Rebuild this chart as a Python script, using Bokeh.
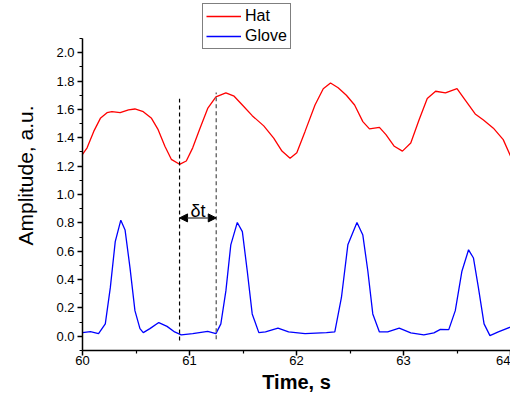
from bokeh.plotting import figure
from bokeh.models import Range1d, FixedTicker, Legend, LegendItem, Arrow, NormalHead, Label
from bokeh.embed import file_html
from bokeh.resources import INLINE

# Hat (red) curve
hat_t = [60.0, 60.043, 60.105, 60.167, 60.229, 60.275, 60.352, 60.43, 60.49, 60.568,
         60.645, 60.707, 60.77, 60.83, 60.907, 60.97, 61.03, 61.093, 61.17, 61.247,
         61.34, 61.417, 61.494, 61.586, 61.694, 61.787, 61.864, 61.94, 62.003, 62.08,
         62.173, 62.25, 62.318, 62.389, 62.466, 62.543, 62.62, 62.682, 62.775, 62.836,
         62.914, 62.99, 63.068, 63.145, 63.222, 63.3, 63.392, 63.5, 63.577, 63.67,
         63.747, 63.84, 63.932, 64.0]
hat_a = [1.283, 1.329, 1.445, 1.537, 1.577, 1.584, 1.577, 1.596, 1.603, 1.584,
         1.537, 1.457, 1.34, 1.248, 1.213, 1.236, 1.329, 1.457, 1.607, 1.688,
         1.716, 1.693, 1.631, 1.556, 1.484, 1.398, 1.306, 1.255, 1.294, 1.445,
         1.631, 1.746, 1.786, 1.753, 1.7, 1.631, 1.514, 1.463, 1.473, 1.422,
         1.34, 1.306, 1.363, 1.526, 1.677, 1.728, 1.716, 1.746, 1.665, 1.568,
         1.526, 1.468, 1.387, 1.271]

# Glove (blue) curve
glove_t = [60.0, 60.074, 60.15, 60.213, 60.26, 60.306, 60.358, 60.398, 60.444, 60.49,
           60.537, 60.568, 60.63, 60.713, 60.79, 60.861, 60.923, 61.03, 61.17, 61.247,
           61.293, 61.34, 61.386, 61.447, 61.494, 61.54, 61.586, 61.648, 61.71, 61.827,
           61.926, 62.08, 62.28, 62.358, 62.42, 62.48, 62.565, 62.62, 62.667, 62.713,
           62.775, 62.852, 62.96, 63.068, 63.19, 63.284, 63.345, 63.423, 63.484, 63.546,
           63.608, 63.654, 63.7, 63.753, 63.808, 63.886, 64.0]
glove_a = [0.026, 0.033, 0.019, 0.088, 0.343, 0.668, 0.819, 0.749, 0.483, 0.181,
           0.054, 0.026, 0.054, 0.097, 0.07, 0.031, 0.01, 0.019, 0.035, 0.019,
           0.088, 0.32, 0.645, 0.803, 0.738, 0.459, 0.158, 0.026, 0.031, 0.058,
           0.031, 0.019, 0.026, 0.031, 0.274, 0.645, 0.803, 0.714, 0.459, 0.158,
           0.031, 0.031, 0.058, 0.024, 0.01, 0.024, 0.049, 0.047, 0.181, 0.459,
           0.61, 0.552, 0.343, 0.088, 0.005, 0.031, 0.065]

# delta-t markers
dt_start = 60.907
dt_end = 61.25
dt_line1 = [-0.03, 1.675]
dt_line2 = [-0.02, 1.72]
dt_arrow_y = 0.835

x_ticks = [60, 61, 62, 63, 64]
x_minor = [60.5, 61.5, 62.5, 63.5]
y_ticks = [0.0, 0.2, 0.4, 0.6, 0.8, 1.0, 1.2, 1.4, 1.6, 1.8, 2.0]
y_minor = [-0.1, 0.1, 0.3, 0.5, 0.7, 0.9, 1.1, 1.3, 1.5, 1.7, 1.9, 2.1]
y_axis_bounds = (-0.1, 2.1)

FONT = "Liberation Sans"

p = figure(width=510, height=395, output_backend="svg", toolbar_location=None,
           x_range=Range1d(60, 64), y_range=Range1d(-0.1, 2.368),
           min_border_left=82, min_border_right=0, min_border_top=0, min_border_bottom=45)
p.outline_line_color = None
p.grid.visible = False
p.background_fill_color = "white"

r_hat = p.line(hat_t, hat_a, line_color="#ff0000", line_width=1.3)
r_glove = p.line(glove_t, glove_a, line_color="#0000ff", line_width=1.3)

p.line([dt_start, dt_start], dt_line1, line_color="black", line_width=1.2, line_dash="4 3")
p.line([dt_end, dt_end], dt_line2, line_color="#707070", line_width=1.5, line_dash="4 3")

p.add_layout(Arrow(x_start=dt_start, x_end=dt_end, y_start=dt_arrow_y, y_end=dt_arrow_y,
                   line_color="#555555", line_width=1.5,
                   start=NormalHead(size=8, fill_color="black", line_color="black"),
                   end=NormalHead(size=8, fill_color="black", line_color="black")))
p.add_layout(Label(x=(dt_start + dt_end) / 2, y=0.885, text="δt", text_align="center",
                   text_baseline="alphabetic", text_font=FONT, text_font_size="18px",
                   text_color="black"))

for ax in (p.xaxis, p.yaxis):
    ax.axis_line_width = 1.5
    ax.major_tick_line_width = 1.5
    ax.minor_tick_line_width = 1.2
    ax.major_tick_out = 5
    ax.major_tick_in = 0
    ax.minor_tick_out = 3
    ax.minor_tick_in = 0
    ax.major_label_text_font = FONT
    ax.major_label_text_font_size = "13px"
    ax.major_label_text_color = "black"
    ax.axis_label_text_font = FONT
    ax.axis_label_text_color = "black"
    ax.axis_line_color = "black"
    ax.major_tick_line_color = "black"
    ax.minor_tick_line_color = "black"

p.xaxis.ticker = FixedTicker(ticks=x_ticks, minor_ticks=x_minor)
p.yaxis.ticker = FixedTicker(ticks=y_ticks, minor_ticks=y_minor)
p.yaxis.bounds = y_axis_bounds
p.xaxis.major_label_overrides = {t: str(t) for t in x_ticks}
p.yaxis.major_label_overrides = {t: f"{t:.1f}" for t in y_ticks}
p.xaxis.axis_label = "Time, s"
p.xaxis.axis_label_text_font_size = "20px"
p.xaxis.axis_label_text_font_style = "bold"
p.xaxis.axis_label_standoff = 3
p.xaxis.major_label_standoff = 0
p.yaxis.axis_label = "Amplitude, a.u."
p.yaxis.axis_label_text_font_size = "21px"
p.yaxis.axis_label_text_font_style = "normal"
p.yaxis.axis_label_standoff = 16
p.yaxis.major_label_standoff = 3

legend = Legend(items=[LegendItem(label="Hat", renderers=[r_hat]),
                       LegendItem(label="Glove", renderers=[r_glove])],
                location=(120, 301), orientation="vertical",
                label_text_font=FONT, label_text_font_size="16px", label_text_color="black",
                glyph_width=35, glyph_height=16, label_height=16, label_standoff=4,
                padding=3, spacing=2, margin=0,
                border_line_color="black", border_line_width=1,
                background_fill_color="white", background_fill_alpha=1.0)
p.add_layout(legend, "center")

open("out.html", "w").write(file_html(p, INLINE))
